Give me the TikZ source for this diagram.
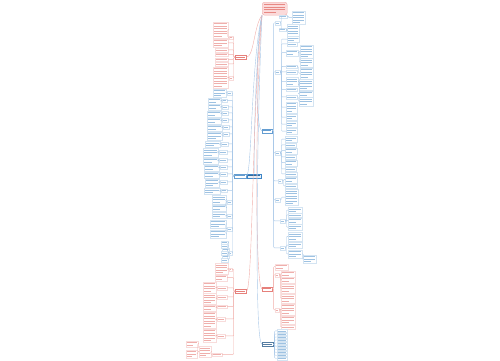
\documentclass[tikz,border=0pt]{standalone}
\definecolor{tred}{HTML}{E0605A}
\definecolor{tblue}{HTML}{3D85C6}
\definecolor{lred}{HTML}{F2B0AC}
\definecolor{lblue}{HTML}{A9C8E8}
\definecolor{rootfill}{HTML}{FBDADA}
\tikzset{
  conn/.style={line width=0.3pt, rounded corners=0.8pt},
  cr/.style={conn, draw=lred},
  cb/.style={conn, draw=lblue},
  trunk/.style={line width=0.4pt},
}
\newcommand\blk[6]{%
  \node[draw=#6!22, line width=0.2pt, inner sep=0pt, minimum width=#4pt, minimum height=#5*2.5pt+1pt, anchor=north west] (#1) at (#2,#3) {};
  \foreach \k in {1,...,#5}{%
    \pgfmathsetmacro\len{(#4-1.6)*(1-0.4*(\k==#5)*(#5>1))}%
    \draw[#6!50, line width=0.65pt] ([xshift=0.8pt,yshift={0.5pt-\k*2.5pt}]#1.north west) -- ++(\len,0);
  }%
}
\newcommand\lone[5]{%
  \node[draw=#5!80, line width=0.4pt, fill=white, inner sep=0pt, minimum width=#4pt, minimum height=4pt, anchor=north west] (#1) at (#2,#3) {};
  \draw[#5!80, line width=0.75pt] ([xshift=1.2pt]#1.west) -- ([xshift=-1.2pt]#1.east);
}
\newcommand\rcon[3]{\draw[#3] (#1.east) -- ++(1.2,0) |- (#2.west);}
\newcommand\lcon[3]{\draw[#3] (#1.west) -- ++(-1.2,0) |- (#2.east);}
\begin{document}
\begin{tikzpicture}[x=1pt,y=-1pt]
\useasboundingbox[fill=white] (0,0) rectangle (500,360);
% root
\node[draw=tred!50, fill=rootfill, rounded corners=2.5pt, line width=0.4pt, inner sep=0pt, minimum width=25pt, minimum height=13pt, anchor=north west] (root) at (262,2) {};
\foreach \k/\l in {1/21,2/21,3/21,4/12}{\draw[tred!75, line width=0.7pt] ([xshift=2pt,yshift={-0.3pt-\k*2.5pt}]root.north west) -- ++(\l,0);}
% level 1
\lone{L1}{235}{55}{11}{tred}
\lone{L2}{234}{173.5}{12}{tblue}
\node[draw=tblue, fill=tblue!12, line width=0.4pt, inner sep=0pt, minimum width=14pt, minimum height=4pt, anchor=north west] (Rc) at (247,173.5) {};
\draw[tblue!80!black, line width=0.75pt] ([xshift=1.2pt]Rc.west) -- ([xshift=-1.2pt]Rc.east);
\lone{R1}{262}{128.5}{10}{tblue}
\lone{L3}{235}{289}{11}{tred}
\lone{R3}{262}{286.5}{10}{tred}
\lone{R4}{262}{342}{11}{tblue!70!black}
% trunk
\draw[trunk, lred] (root.south west) .. controls (254,25) and (254,57) .. (L1.east);
\draw[trunk, lblue] (root.south west) .. controls (256,40) and (255,130.5) .. (R1.west);
\draw[trunk, lblue] (root.south west) .. controls (251,60) and (252,175.5) .. (L2.east);
\draw[trunk, lblue] (root.south west) .. controls (255,60) and (254,150) .. (Rc.north);
\draw[trunk, lred] (root.south west) .. controls (252,100) and (253,291) .. (L3.east);
\draw[trunk, lred] (root.south west) .. controls (255,100) and (255,288.5) .. (R3.west);
\draw[trunk, lblue] (root.south west) .. controls (257,120) and (254,344) .. (R4.west);
% ---------- right blue subtree ----------
\blk{ra}{275}{21}{5}{1}{tblue}
\blk{raa}{279}{14.5}{8}{1}{tblue}
\blk{raax}{292}{10.5}{13}{5}{tblue}
\blk{rab}{279}{27.5}{7}{1}{tblue}
\blk{rabx}{287}{24}{12}{5}{tblue}
\rcon{R1}{ra}{cb}\rcon{ra}{raa}{cb}\rcon{ra}{rab}{cb}\rcon{raa}{raax}{cb}\rcon{rab}{rabx}{cb}
\blk{rb}{275}{70}{5}{1}{tblue}
\rcon{R1}{rb}{cb}
\blk{rba}{287}{36}{12}{2}{tblue}
\blk{rbb}{287}{42}{10}{1}{tblue}
\blk{rbc}{286}{49.5}{12}{2}{tblue}
\blk{rbca}{300}{44.5}{13}{5}{tblue}
\blk{rbcb}{300}{58}{13}{3}{tblue}
\blk{rbd}{286}{64.5}{11}{1}{tblue}
\blk{rbda}{300}{67.5}{13}{4}{tblue}
\blk{rbe}{286}{70}{11}{1}{tblue}
\blk{rbf}{286}{77}{12}{3}{tblue}
\blk{rbfa}{299}{79}{14}{4}{tblue}
\blk{rbfb}{299}{90.5}{14}{2}{tblue}
\blk{rbg}{286}{87.5}{11}{1}{tblue}
\blk{rbh}{286}{95}{11}{1}{tblue}
\blk{rbha}{299}{97}{14}{3}{tblue}
\blk{rbi}{286}{101.5}{11}{4}{tblue}
\blk{rbj}{286}{114}{11}{2}{tblue}
\blk{rbk}{286}{121}{11}{2}{tblue}
\blk{rbl}{286}{128}{11}{2}{tblue}
\foreach \c in {rba,rbb,rbc,rbd,rbe,rbf,rbg,rbh,rbi,rbj,rbk,rbl}{\rcon{rb}{\c}{cb}}
\rcon{rbc}{rbca}{cb}\rcon{rbc}{rbcb}{cb}\rcon{rbd}{rbda}{cb}\rcon{rbf}{rbfa}{cb}\rcon{rbf}{rbfb}{cb}\rcon{rbh}{rbha}{cb}
\blk{rc}{275}{151}{5}{1}{tblue}
\rcon{R1}{rc}{cb}
\blk{rca}{285}{136}{12}{2}{tblue}
\blk{rcb}{285}{143}{11}{1}{tblue}
\blk{rcc}{285}{147.5}{12}{2}{tblue}
\blk{rcd}{285}{155}{11}{1}{tblue}
\blk{rce}{285}{159.5}{12}{2}{tblue}
\blk{rcf}{285}{167}{11}{1}{tblue}
\blk{rcg}{285}{172}{12}{1}{tblue}
\foreach \c in {rca,rcb,rcc,rcd,rce,rcf,rcg}{\rcon{rc}{\c}{cb}}
\blk{rd}{278}{179}{4}{1}{tblue}
\rcon{R1}{rd}{cb}
\blk{rda}{285}{176.5}{12}{2}{tblue}
\blk{rdb}{285}{184}{12}{1}{tblue}
\rcon{rd}{rda}{cb}\rcon{rd}{rdb}{cb}
\blk{re}{275}{198}{5}{1}{tblue}
\rcon{R1}{re}{cb}
\blk{rea}{285}{189}{13}{6}{tblue}
\rcon{re}{rea}{cb}
\blk{rf}{280}{219}{5}{1}{tblue}
\rcon{R1}{rf}{cb}
\blk{rfa}{288}{207}{14}{2}{tblue}
\blk{rfb}{288}{213}{14}{1}{tblue}
\blk{rfc}{288}{217.5}{14}{2}{tblue}
\blk{rfd}{288}{224}{14}{2}{tblue}
\foreach \c in {rfa,rfb,rfc,rfd}{\rcon{rf}{\c}{cb}}
\blk{rg}{280}{246}{5}{1}{tblue}
\rcon{R1}{rg}{cb}
\blk{rga}{288}{232}{14}{3}{tblue}
\blk{rgb}{288}{242}{14}{2}{tblue}
\blk{rgc}{288}{249.5}{14}{3}{tblue}
\blk{rgx}{303}{254.5}{13}{3}{tblue}
\foreach \c in {rga,rgb,rgc}{\rcon{rg}{\c}{cb}}
\rcon{rgc}{rgx}{cb}
% ---------- left red top subtree ----------
\blk{lra}{229}{35.5}{4}{1}{tred}
\blk{lrax}{213}{21.5}{15}{6}{tred}
\blk{lrbx}{213}{38.5}{15}{3}{tred}
\blk{lrcx}{215}{48}{13}{1}{tred}
\blk{lrdx}{215}{52.5}{13}{1}{tred}
\blk{lrex}{215}{57.5}{13}{1}{tred}
\blk{lrfx}{215}{62}{13}{1}{tred}
\blk{lrg}{229}{76}{4}{1}{tred}
\blk{lrgx}{213}{66.5}{15}{8}{tred}
\foreach \c in {lra,lrbx,lrcx,lrdx,lrex,lrfx,lrg}{\lcon{L1}{\c}{cr}}
\lcon{lra}{lrax}{cr}\lcon{lrg}{lrgx}{cr}
% ---------- left blue subtree ----------
\blk{lba}{227}{91}{5}{1}{tblue}\blk{lbax}{213}{88.5}{13}{3}{tblue}
\blk{lbb}{222}{98.5}{5}{1}{tblue}\blk{lbbx}{208}{97.5}{13}{2}{tblue}
\blk{lbc}{222}{105}{6}{1}{tblue}\blk{lbcx}{208}{103.5}{13}{2}{tblue}
\blk{lbd}{222}{111}{6}{1}{tblue}\blk{lbdx}{207}{110.5}{14}{2}{tblue}
\blk{lbe}{222}{118}{6}{1}{tblue}\blk{lbex}{207}{117.5}{14}{2}{tblue}
\blk{lbf}{223}{125}{6}{1}{tblue}\blk{lbfx}{207}{124.5}{15}{2}{tblue}
\blk{lbg}{223}{132}{6}{1}{tblue}\blk{lbgx}{207}{131.5}{15}{3}{tblue}
\blk{lbh}{221}{142}{7}{1}{tblue}\blk{lbhx}{205}{141}{15}{2}{tblue}
\blk{lbi}{219}{150}{8}{1}{tblue}\blk{lbix}{203}{148}{15}{3}{tblue}
\blk{lbj}{219}{158}{8}{1}{tblue}\blk{lbjx}{203}{157.5}{15}{2}{tblue}
\blk{lbk}{220}{165}{7}{1}{tblue}\blk{lbkx}{204}{164.5}{15}{2}{tblue}
\blk{lbl}{220}{172}{7}{1}{tblue}\blk{lblx}{204}{171.5}{15}{2}{tblue}
\blk{lbm}{220}{180}{7}{1}{tblue}\blk{lbmx}{205}{178.5}{14}{3}{tblue}
\blk{lbn}{221}{188.5}{6}{1}{tblue}\blk{lbnx}{204}{188}{16}{2}{tblue}
\foreach \c in {lba,lbb,lbc,lbd,lbe,lbf,lbg,lbh,lbi,lbj,lbk,lbl,lbm,lbn}{\lcon{L2}{\c}{cb}\lcon{\c}{\c x}{cb}}
\blk{lbo}{227}{200}{5}{1}{tblue}\blk{lbox}{212}{195}{14}{3}{tblue}\blk{lboy}{212}{204.5}{14}{2}{tblue}
\blk{lbp}{227}{214}{5}{1}{tblue}\blk{lbpx}{212}{212}{14}{2}{tblue}
\blk{lbq}{227}{227}{5}{1}{tblue}\blk{lbqx}{210}{219.5}{16}{3}{tblue}\blk{lbqy}{210}{229.5}{16}{3}{tblue}
\blk{lbr}{229}{251}{3}{1}{tblue}
\foreach \c in {lbo,lbp,lbq,lbr}{\lcon{L2}{\c}{cb}}
\lcon{lbo}{lbox}{cb}\lcon{lbo}{lboy}{cb}\lcon{lbp}{lbpx}{cb}\lcon{lbq}{lbqx}{cb}\lcon{lbq}{lbqy}{cb}
\foreach \i/\yy/\xx in {1/240.5/221,2/244/221,3/247.5/222,4/251/221,5/254.5/222,6/258/221}{%
  \blk{lbr\i}{\xx}{\yy}{7}{1}{tblue}\lcon{lbr}{lbr\i}{cb}}
% ---------- left red bottom subtree ----------
\blk{la}{229}{267.5}{3}{1}{tred}\blk{lax}{215}{263}{13}{4}{tred}
\blk{lbx}{215}{274.5}{12}{2}{tred}
\blk{lc}{217}{286}{10}{1}{tred}\blk{lcx}{203}{281.5}{13}{4}{tred}
\blk{ld}{217}{295}{10}{1}{tred}\blk{ldx}{203}{293}{13}{4}{tred}
\blk{le}{217}{304.5}{10}{1}{tred}\blk{lex}{203}{304.5}{13}{2}{tred}
\blk{lf}{217}{317}{8}{1}{tred}\blk{lfx}{203}{311.5}{13}{6}{tred}
\blk{lg}{217}{334}{8}{1}{tred}\blk{lgx}{203}{328.5}{13}{5}{tred}
\blk{lh}{212}{352.5}{10}{1}{tred}\blk{lhx}{199}{346}{12}{4}{tred}\blk{lhy}{186}{349.5}{11}{3}{tred}
\blk{li}{186}{340.5}{12}{2}{tred}
\foreach \c in {la,lbx,lc,ld,le,lf,lg,lh}{\lcon{L3}{\c}{cr}}
\foreach \c in {la,lc,ld,le,lf,lg,lh}{\lcon{\c}{\c x}{cr}}
\lcon{lhx}{lhy}{cr}\lcon{lhx}{li}{cr}
% ---------- right red bottom subtree ----------
\blk{rrt}{275}{263.5}{13}{2}{tred}
\blk{rra}{275}{273}{4}{1}{tred}
\blk{rrb}{275}{308}{4}{1}{tred}
\foreach \c in {rrt,rra,rrb}{\rcon{R3}{\c}{cr}}
\blk{rraa}{281}{270.5}{14}{2}{tred}
\blk{rrab}{281}{276.5}{14}{2}{tred}
\blk{rrac}{281}{284}{14}{3}{tred}
\blk{rrad}{281}{294}{14}{3}{tred}
\foreach \c in {rraa,rrab,rrac,rrad}{\rcon{rra}{\c}{cr}}
\blk{rrba}{281}{303.5}{14}{4}{tred}
\blk{rrbb}{281}{315.5}{14}{3}{tred}
\blk{rrbc}{281}{325}{14}{1}{tred}
\foreach \c in {rrba,rrbb,rrbc}{\rcon{rrb}{\c}{cr}}
% ---------- right blue bottom list ----------
\foreach \i in {0,...,9}{%
  \blk{rl\i}{277}{329+\i*3.05}{10}{1}{tblue}\rcon{R4}{rl\i}{cb}}
\end{tikzpicture}
\end{document}
